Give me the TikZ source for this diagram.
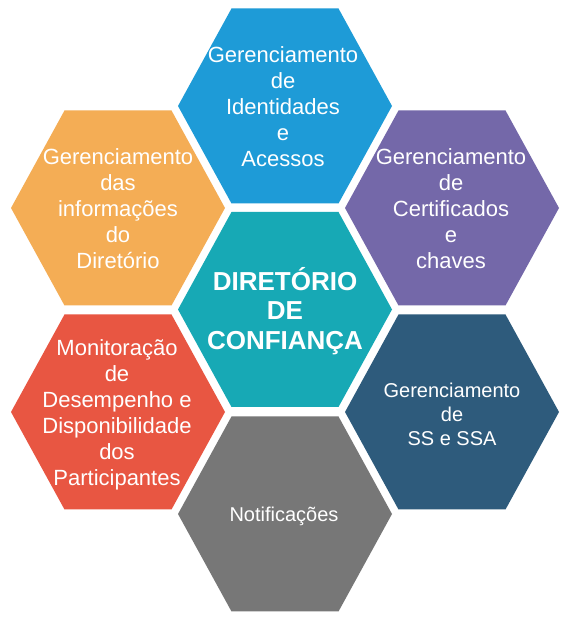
\documentclass[tikz,border=0pt]{standalone}
\usepackage{fontspec}
\setmainfont{Liberation Sans}
\definecolor{cblue}{HTML}{1E9BD7}
\definecolor{corange}{HTML}{F4AD55}
\definecolor{cpurple}{HTML}{7468A9}
\definecolor{cteal}{HTML}{17A9B5}
\definecolor{cred}{HTML}{E85642}
\definecolor{cnavy}{HTML}{2E5B7C}
\definecolor{cgray}{HTML}{777777}
\tikzset{
  hextext/.style={text=white, align=center, inner sep=0pt, font=\fontsize{22}{26}\selectfont},
  hexsmall/.style={text=white, align=center, inner sep=0pt, font=\fontsize{20}{24}\selectfont},
  hexbold/.style={text=white, align=center, inner sep=0pt, font=\fontsize{26}{29.5}\selectfont\bfseries},
}
\begin{document}
\begin{tikzpicture}[x=1pt,y=1pt]
\useasboundingbox (0,0) rectangle (568,620);
\fill[white] (0,0) rectangle (568,620);
\foreach \x/\y/\c in {285/514/cblue, 118/412/corange, 452/412/cpurple, 285/310.5/cteal, 118/208/cred, 452/208/cnavy, 285/106/cgray}{
  \fill[\c, shift={(\x,\y)}] (-107,0) -- (-53.5,97.5) -- (53.5,97.5) -- (107,0) -- (53.5,-97.5) -- (-53.5,-97.5) -- cycle;
}
\node[hextext] (ident) at (283,513) {Gerenciamento\\de\\Identidades\\e\\Acessos};
\node[hextext] (info) at (118,411) {Gerenciamento\\das\\informações\\do\\Diretório};
\node[hextext] (cert) at (451,411) {Gerenciamento\\de\\Certificados\\e\\chaves};
\node[hexbold] (dir) at (285,309) {DIRETÓRIO\\DE\\CONFIANÇA};
\node[hextext] (mon) at (117,205) {Monitoração\\de\\Desempenho e\\Disponibilidade\\dos\\Participantes};
\node[hexsmall] (ss) at (452,206) {Gerenciamento\\de\\SS e SSA};
\node[hexsmall] (notif) at (284,104) {Notificações};
\end{tikzpicture}
\end{document}
